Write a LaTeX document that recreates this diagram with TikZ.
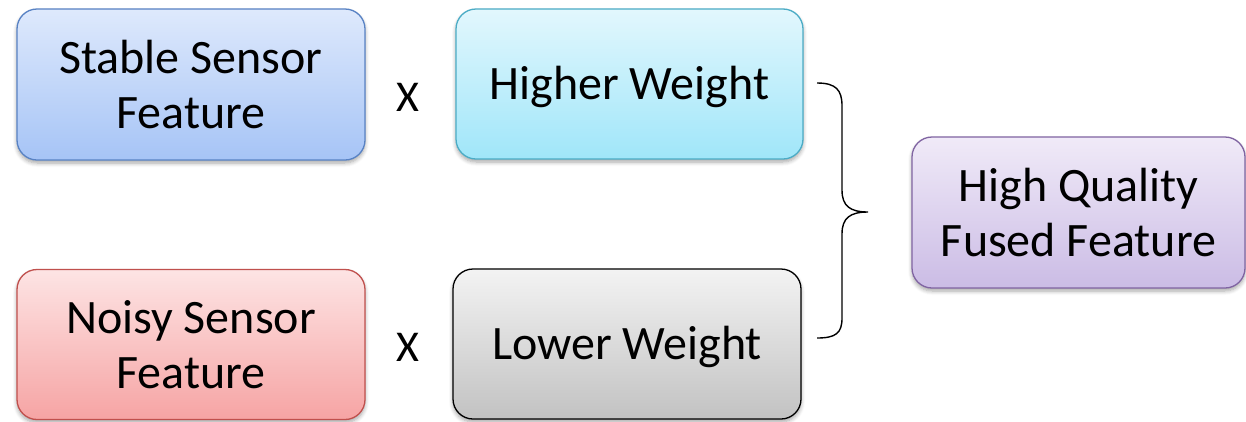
\documentclass[tikz,border=0pt]{standalone}
\usepackage{fontspec}
\setmainfont{Carlito}
\usetikzlibrary{shadows.blur}
\definecolor{blueTop}{RGB}{222,233,252}
\definecolor{blueBot}{RGB}{166,196,246}
\definecolor{blueLine}{RGB}{88,130,196}
\definecolor{cyanTop}{RGB}{226,247,253}
\definecolor{cyanBot}{RGB}{160,230,249}
\definecolor{cyanLine}{RGB}{75,172,198}
\definecolor{redTop}{RGB}{253,228,228}
\definecolor{redBot}{RGB}{246,164,164}
\definecolor{redLine}{RGB}{192,80,77}
\definecolor{grayTop}{RGB}{243,243,243}
\definecolor{grayBot}{RGB}{194,194,194}
\definecolor{purpTop}{RGB}{240,234,248}
\definecolor{purpBot}{RGB}{203,188,229}
\definecolor{purpLine}{RGB}{128,100,162}
\tikzset{
  box/.style={rectangle, rounded corners=20pt, line width=1.3pt,
    align=center, inner sep=0pt,
    font=\fontsize{48}{55}\selectfont,
    blur shadow={shadow xshift=0pt, shadow yshift=-3pt, shadow blur steps=6, shadow blur radius=4pt, shadow opacity=35}},
  oneline/.style={text height=31pt, text depth=0pt},
  bluebox/.style={box, draw=blueLine, top color=blueTop, bottom color=blueBot},
  cyanbox/.style={box, draw=cyanLine, top color=cyanTop, bottom color=cyanBot},
  redbox/.style={box, draw=redLine, top color=redTop, bottom color=redBot},
  graybox/.style={box, draw=black, top color=grayTop, bottom color=grayBot},
  purpbox/.style={box, draw=purpLine, top color=purpTop, bottom color=purpBot},
  times/.style={font=\fontsize{44}{48}\selectfont, inner sep=0pt, text height=29pt, text depth=0pt},
  brace/.style={line width=1.4pt, black}
}
\begin{document}
\begin{tikzpicture}[x=1pt, y=-1pt]
\useasboundingbox (0,0) rectangle (1246,421);

% feature boxes
\node[bluebox, minimum width=348pt, minimum height=151pt] (stable) at (191,84.5) {Stable Sensor\\Feature};
\node[redbox, minimum width=348pt, minimum height=150pt] (noisy) at (191,344.5) {Noisy Sensor\\Feature};

% weight boxes
\node[cyanbox, oneline, minimum width=347pt, minimum height=150pt] (higher) at (629.5,84) {Higher Weight};
\node[graybox, oneline, minimum width=348pt, minimum height=150pt] (lower) at (627,344) {Lower Weight};

% multiplication signs
\node[times] (x1) at (408,97) {X};
\node[times] (x2) at (408,347) {X};

% fused result
\node[purpbox, minimum width=333pt, minimum height=151pt] (fused) at (1078.5,212.5) {High Quality\\Fused Feature};

% curly brace joining the two weighted features
\coordinate (btop) at (817,83);
\coordinate (btip) at (868,212);
\coordinate (bbot) at (817,338);
\draw[brace] (btop) .. controls (836,83) and (842,90) .. (842,106)
  -- (842,190) .. controls (842,206) and (850,212) .. (btip)
  .. controls (850,212) and (842,218) .. (842,234)
  -- (842,318) .. controls (842,333) and (836,338) .. (bbot);
\end{tikzpicture}
\end{document}
